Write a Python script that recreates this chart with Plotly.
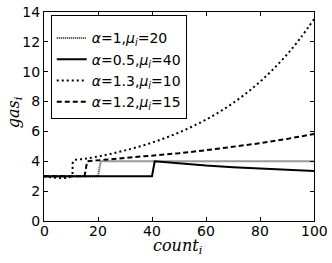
import plotly.graph_objects as go

# alpha=1, mu=20
x_a1 = [0, 20, 21, 100]
y_a1 = [3, 3, 4, 4]
# alpha=0.5, mu=40
x_a05 = [0, 40, 41, 50, 60, 70, 80, 90, 100]
y_a05 = [3, 3, 4.0, 3.85, 3.71, 3.6, 3.5, 3.42, 3.35]
# alpha=1.3, mu=10
x_a13 = [0, 10, 11, 15, 20, 25, 30, 35, 40, 45, 50, 55, 60, 65, 70, 75, 80, 85, 90, 95, 100]
y_a13 = [3, 3, 4.03, 4.16, 4.32, 4.51, 4.73, 4.97, 5.25, 5.57, 5.93, 6.34, 6.79, 7.31, 7.9, 8.57, 9.33, 10.19, 11.15, 12.26, 13.52]
# alpha=1.2, mu=15
x_a12 = [0, 15, 16, 20, 30, 40, 50, 60, 70, 80, 90, 100]
y_a12 = [3, 3, 4.0, 4.06, 4.2, 4.36, 4.54, 4.74, 4.97, 5.21, 5.5, 5.83]

names = ["<i>α</i>=1,<i>μ</i><sub><i>i</i></sub>=20",
         "<i>α</i>=0.5,<i>μ</i><sub><i>i</i></sub>=40",
         "<i>α</i>=1.3,<i>μ</i><sub><i>i</i></sub>=10",
         "<i>α</i>=1.2,<i>μ</i><sub><i>i</i></sub>=15"]

x_ticks = [0, 20, 40, 60, 80, 100]
y_ticks = [0, 2, 4, 6, 8, 10, 12, 14]
x_title = "<i>count</i><sub><i>i</i></sub>"
y_title = "<i>gas</i><sub><i>i</i></sub>"

fig = go.Figure()
fig.add_trace(go.Scatter(x=x_a1, y=y_a1, mode="lines", name=names[0], legendrank=1,
                         line=dict(color="#333333", width=2, dash="1px,1px")))
fig.add_trace(go.Scatter(x=x_a13, y=y_a13, mode="lines", name=names[2], legendrank=3,
                         line=dict(color="black", width=2, dash="2px,3px", shape="spline")))
fig.add_trace(go.Scatter(x=x_a12, y=y_a12, mode="lines", name=names[3], legendrank=4,
                         line=dict(color="black", width=2, dash="5px,3px")))
fig.add_trace(go.Scatter(x=x_a05, y=y_a05, mode="lines", name=names[1], legendrank=2,
                         line=dict(color="black", width=2, dash="solid")))

axis_common = dict(showline=True, linecolor="black", linewidth=1, mirror="allticks",
                   ticks="inside", ticklen=4, tickcolor="black", showgrid=False,
                   zeroline=False, automargin=False,
                   tickfont=dict(family="DejaVu Sans", size=14, color="black"))

tick_font = dict(family="DejaVu Sans", size=14, color="black")
annotations = []
for v in x_ticks:
    annotations.append(dict(x=v, y=0, xref="x", yref="paper", text=str(v), showarrow=False,
                            xanchor="center", yanchor="top", yshift=0, font=tick_font))
annotations.append(dict(x=0.496, y=0, xref="paper", yref="paper", text=x_title, showarrow=False,
                        xanchor="center", yanchor="middle", yshift=-25,
                        font=dict(family="DejaVu Serif", size=16, color="black")))
annotations.append(dict(x=0, y=0.52, xref="paper", yref="paper", text=y_title, showarrow=False,
                        xanchor="center", yanchor="middle", xshift=-30, textangle=-90,
                        font=dict(family="DejaVu Serif", size=16, color="black")))

fig.update_layout(
    width=332, height=263,
    margin=dict(l=44, r=18, t=12, b=42),
    paper_bgcolor="white", plot_bgcolor="white",
    xaxis=dict(range=[0, 100], tickvals=x_ticks, showticklabels=False, **axis_common),
    yaxis=dict(range=[0, 14], tickvals=y_ticks, ticktext=[str(v) for v in y_ticks],
               **axis_common),
    annotations=annotations,
    legend=dict(x=0.025, y=0.986, xanchor="left", yanchor="top",
                bgcolor="white", bordercolor="black", borderwidth=1,
                title=dict(text="&nbsp;", side="top", font=dict(size=5)),
                font=dict(family="DejaVu Sans", size=14, color="black")),
    showlegend=True,
)
fig.write_html("out.html", config={"displayModeBar": False},
               post_script="document.body.style.margin='0px';")
